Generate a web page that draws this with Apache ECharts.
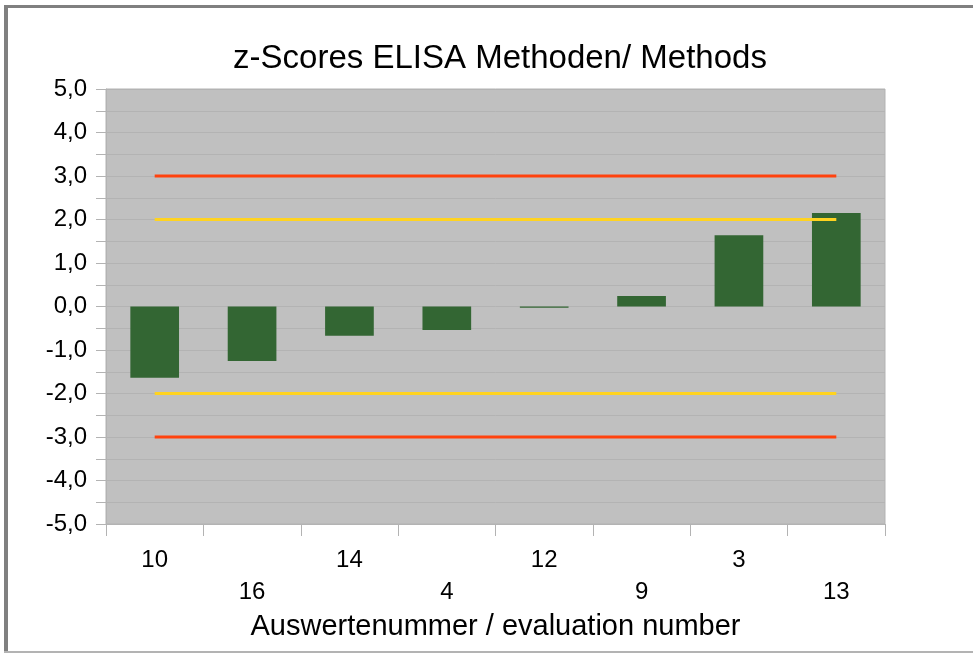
<!DOCTYPE html>
<html>
<head>
<meta charset="utf-8">
<script src="https://cdn.jsdelivr.net/npm/echarts@6/dist/echarts.min.js"></script>
<style>
  html, body { margin: 0; padding: 0; background: #fff; }
  #chart { width: 973px; height: 653px; }
</style>
</head>
<body>
<div id="chart"></div>
<script>
  // evaluation numbers in the order they appear
  const categories = ['10', '16', '14', '4', '12', '9', '3', '13']
  const zScores = [-1.64, -1.25, -0.67, -0.54, -0.03, 0.24, 1.64, 2.15]
  // warning / action limits
  const upperAction = [3, 3, 3, 3, 3, 3, 3, 3]
  const upperWarn = [2, 2, 2, 2, 2, 2, 2, 2]
  const lowerWarn = [-2, -2, -2, -2, -2, -2, -2, -2]
  const lowerAction = [-3, -3, -3, -3, -3, -3, -3, -3]

  const font = '"Liberation Sans", Arial, sans-serif'
  const red = '#ff420e'
  const yellow = '#ffd320'

  const limitLine = (data, color) => ({
    type: 'line',
    data: data,
    symbol: 'none',
    silent: true,
    lineStyle: { width: 3, color: color },
    z: 3,
  })

  const chart = echarts.init(document.getElementById('chart'))
  chart.setOption({
    animation: false,
    title: {
      text: 'z-Scores ELISA Methoden/ Methods',
      left: 495,
      textAlign: 'center',
      top: 37,
      textStyle: { fontFamily: font, fontSize: 33, fontWeight: 'normal', color: '#000' },
    },
    graphic: [
      // frame
      { type: 'rect', shape: { x: 4, y: 5, width: 4, height: 646 }, style: { fill: '#808080' } },
      { type: 'rect', shape: { x: 4, y: 5, width: 969, height: 3 }, style: { fill: '#808080' } },
      { type: 'rect', shape: { x: 4, y: 651, width: 969, height: 2 }, style: { fill: '#b3b3b3' } },
    ],
    grid: {
      left: 106,
      right: 88,
      top: 89,
      bottom: 129,
      show: true,
      backgroundColor: '#c0c0c0',
      borderWidth: 1,
      borderColor: '#b3b3b3',
    },
    xAxis: {
      type: 'category',
      data: categories,
      boundaryGap: true,
      name: 'Auswertenummer / evaluation number',
      nameLocation: 'middle',
      nameGap: 83,
      nameTextStyle: { fontFamily: font, fontSize: 29, color: '#000' },
      axisLine: { show: false, onZero: false },
      axisTick: { show: true, length: 12, lineStyle: { color: '#b3b3b3' } },
      axisLabel: {
        interval: 0,
        margin: 20,
        fontFamily: font,
        fontSize: 24,
        color: '#000',
        lineHeight: 32,
        formatter: (v, i) => (i % 2 ? '\n' + v : v),
      },
      splitLine: { show: false },
    },
    yAxis: {
      type: 'value',
      min: -5,
      max: 5,
      interval: 0.5,
      axisLine: { show: true, lineStyle: { color: '#b3b3b3' } },
      axisTick: { show: true, length: 10, lineStyle: { color: '#b3b3b3' } },
      axisLabel: {
        margin: 19,
        fontFamily: font,
        fontSize: 24,
        color: '#000',
        formatter: (v) => (Number.isInteger(v) ? v.toFixed(1).replace('.', ',') : ''),
      },
      splitLine: { show: true, lineStyle: { color: '#b3b3b3', width: 1 } },
    },
    series: [
      {
        type: 'bar',
        data: zScores,
        barWidth: '50%',
        itemStyle: { color: '#336633' },
        z: 2,
      },
      limitLine(upperAction, red),
      limitLine(upperWarn, yellow),
      limitLine(lowerWarn, yellow),
      limitLine(lowerAction, red),
    ],
  })
  window.addEventListener('resize', function () {
    chart && chart.resize()
  })
</script>
</body>
</html>
